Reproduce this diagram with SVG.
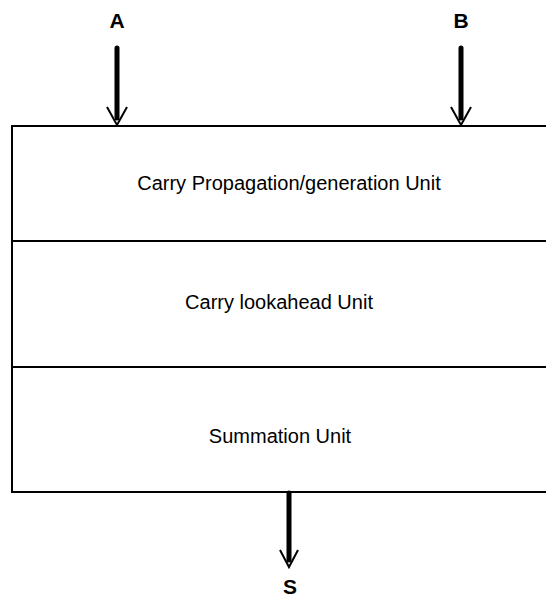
<svg xmlns="http://www.w3.org/2000/svg" width="546" height="598" viewBox="0 0 546 598">
<style>
.lbl{font-family:"Liberation Sans",Arial,sans-serif;font-size:20px;fill:#000;text-anchor:middle}
.io{font-family:"Liberation Sans",Arial,sans-serif;font-size:21px;font-weight:bold;fill:#000;text-anchor:middle}
.box{fill:#fff;stroke:#000;stroke-width:2}
.shaft{stroke:#000;stroke-width:5;stroke-linecap:round;fill:none}
.head{stroke:#000;stroke-width:2;fill:none}
</style>
<rect width="546" height="598" fill="#fff"/>
<g id="unit-cpg">
<path class="box" d="M548,126 H12 V241 H548"/>
<text class="lbl" x="289" y="190">Carry Propagation/generation Unit</text>
</g>
<g id="unit-cla">
<path class="box" d="M548,241 H12 V367 H548"/>
<text class="lbl" x="279" y="309">Carry lookahead Unit</text>
</g>
<g id="unit-sum">
<path class="box" d="M548,367 H12 V492 H548"/>
<text class="lbl" x="280" y="443">Summation Unit</text>
</g>
<g id="input-A"><text class="io" x="117" y="28">A</text></g>
<g id="input-B"><text class="io" x="461" y="28">B</text></g>
<g id="output-S"><text class="io" x="290" y="594">S</text></g>
<g id="connectors">
<line class="shaft" x1="117" y1="48" x2="117" y2="118"/>
<polyline class="head" points="107,107 117,125 127,107"/>
<line class="shaft" x1="461" y1="48" x2="461" y2="118"/>
<polyline class="head" points="451,107 461,125 471,107"/>
<line class="shaft" x1="289" y1="493" x2="289" y2="560"/>
<polyline class="head" points="280,550 289,567 298,550"/>
</g>
</svg>
